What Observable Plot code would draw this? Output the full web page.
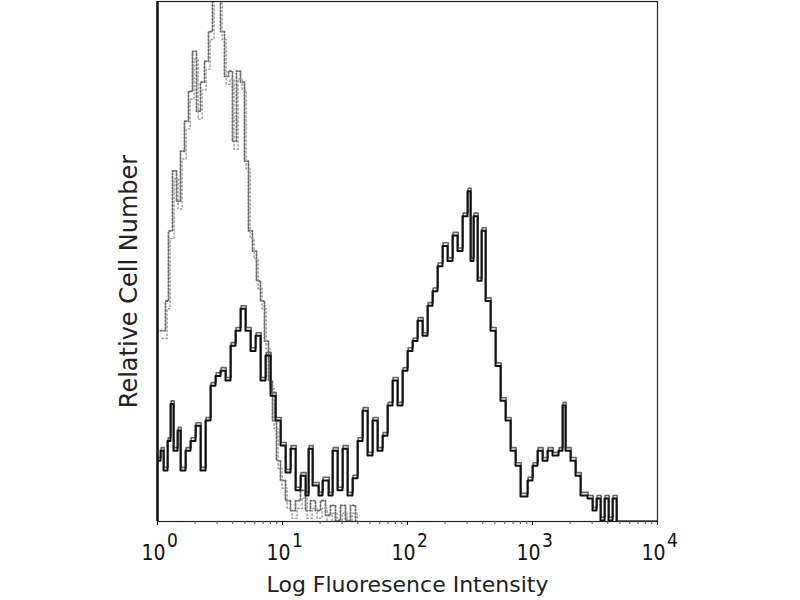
<!DOCTYPE html>
<html>
<head>
<meta charset="utf-8">
<script src="https://cdn.jsdelivr.net/npm/d3@7"></script>
<script src="https://cdn.jsdelivr.net/npm/@observablehq/plot@0.6"></script>
<style>
  html, body { margin: 0; padding: 0; background: #fff; }
  #chart { width: 800px; height: 600px; }
</style>
</head>
<body>
<div id="chart"></div>
<script>
// Stained sample (solid) — log10 intensity at bin start, relative count
const stainedExp = [0,0.024,0.048,0.08,0.104,0.128,0.16,0.184,0.224,0.264,0.304,0.344,0.384,0.424,0.464,0.504,0.544,0.584,0.624,0.664,0.704,0.744,0.784,0.824,0.864,0.904,0.944,0.984,1.024,1.064,1.104,1.144,1.184,1.208,1.24,1.288,1.32,1.368,1.4,1.44,1.48,1.52,1.56,1.6,1.64,1.68,1.72,1.76,1.8,1.84,1.88,1.92,1.96,2.0,2.04,2.08,2.12,2.16,2.2,2.24,2.28,2.32,2.36,2.4,2.44,2.48,2.504,2.528,2.56,2.592,2.624,2.664,2.704,2.744,2.784,2.824,2.864,2.904,2.96,3.0,3.04,3.08,3.12,3.16,3.208,3.24,3.264,3.304,3.344,3.384,3.44,3.48,3.512,3.544,3.576,3.608,3.64,3.672,4.0];
const stainedCount = [11.7,13.6,9.8,15.5,22.6,13.6,17.5,9.8,13.6,15.5,18.4,9.8,19.4,26.1,28.0,29.0,27.1,33.8,36.7,40.9,36.7,32.8,35.7,27.1,31.9,24.2,19.4,14.6,9.4,14.0,6.0,8.8,5.0,14.0,6.9,5.0,7.9,5.0,13.6,6.0,14.0,5.0,8.3,15.5,21.3,12.7,19.4,13.6,16.5,22.3,27.1,22.3,29.0,32.8,34.7,38.6,35.7,41.5,44.3,49.1,53.0,50.1,55.0,52.0,58.7,63.5,50.1,58.7,46.3,55.9,42.4,36.7,29.9,23.2,19.4,13.6,10.7,4.8,7.9,10.7,13.6,11.7,13.6,12.7,13.6,22.3,13.6,11.7,8.8,5.0,4.4,2.1,4.4,0.2,4.4,0.2,4.4,0,0];

// Isotype control (dotted)
const controlExp = [0.024,0.064,0.088,0.12,0.152,0.184,0.216,0.248,0.28,0.312,0.344,0.376,0.408,0.44,0.472,0.504,0.536,0.568,0.6,0.632,0.664,0.696,0.728,0.76,0.792,0.824,0.856,0.888,0.92,0.952,0.984,1.024,1.064,1.104,1.144,1.184,1.224,1.264,1.304,1.344,1.384,1.424,1.464,1.504,1.544,1.584];
const controlCount = [36.7,42.4,55.9,67.4,61.6,71.2,77.0,82.7,90.4,78.9,84.5,88.5,94.2,102,104,94.2,85.6,86.6,73.1,86.6,84.5,69.3,55.9,52.0,46.3,42.4,34.7,27.1,19.4,11.7,7.9,4.0,2.1,4.0,6.0,2.1,4.0,2.1,4.0,1.2,3.1,0.2,3.1,0.2,3.1,0];

const majorTicks = [1, 10, 100, 1000, 10000];
const tickBase = ["10", "10", "10", "10", "10"];
const tickExponent = ["0", "1", "2", "3", "4"];
const xTitle = "Log Fluoresence Intensity";
const yTitle = "Relative Cell Number";

const stained = stainedExp.map((e, i) => ({x: 10 ** e, y: stainedCount[i]}));
const control = controlExp.map((e, i) => ({x: 10 ** e, y: controlCount[i]}));
const minorTicks = [];
for (const p of [1, 10, 100, 1000]) for (let k = 2; k <= 9; k++) minorTicks.push(p * k);

const tickFont = "'DejaVu Sans Condensed', 'DejaVu Sans', sans-serif";

const chart = Plot.plot({
  width: 800,
  height: 600,
  marginLeft: 157,
  marginRight: 143,
  marginTop: 1,
  marginBottom: 79,
  style: {fontFamily: "'DejaVu Sans', sans-serif", background: "#fff", color: "#111"},
  x: {type: "log", domain: [1, 10000], axis: null},
  y: {domain: [0, 100], axis: null},
  marks: [
    Plot.lineY(control, {x: "x", y: "y", curve: "step-after", stroke: "#6a6a6a", strokeWidth: 1.8, strokeDasharray: "1.5,2", clip: true}),
    Plot.lineY(control, {x: d => d.x * 1.03, y: d => d.y > 0 ? d.y - 1.5 : 0, curve: "step-after", stroke: "#9a9a9a", strokeWidth: 1.4, strokeDasharray: "1.5,2.5", clip: true}),
    Plot.lineY(stained, {x: d => d.x * 1.012, y: d => d.y > 0 ? d.y + 0.6 : 0, curve: "step-after", stroke: "#666", strokeWidth: 1.6, clip: true}),
    Plot.lineY(stained, {x: "x", y: "y", curve: "step-after", stroke: "#111", strokeWidth: 2, clip: true}),
    Plot.frame({stroke: "#222", strokeWidth: 1.2}),
    Plot.ruleX([1], {stroke: "#111", strokeWidth: 2.5}),
    Plot.axisX(minorTicks, {anchor: "bottom", tickSize: 3, tickFormat: () => "", label: null, stroke: "#555"}),
    Plot.axisX(majorTicks, {anchor: "bottom", tickSize: 4, tickFormat: () => "", label: null}),
    Plot.text(majorTicks, {x: d => d, text: (d, i) => tickBase[i], frameAnchor: "bottom", lineAnchor: "middle", dx: -4, dy: 32, fontSize: 21, fontFamily: tickFont, fill: "#111"}),
    Plot.text(majorTicks, {x: d => d, text: (d, i) => tickExponent[i], frameAnchor: "bottom", lineAnchor: "middle", dx: 15, dy: 19, fontSize: 19, fontFamily: tickFont, fill: "#111"}),
    Plot.text([xTitle], {frameAnchor: "bottom", lineAnchor: "middle", dy: 63, fontSize: 22, fill: "#222"}),
    Plot.text([yTitle], {frameAnchor: "left", textAnchor: "middle", lineAnchor: "middle", rotate: -90, dx: -28, dy: 20, fontSize: 24, fill: "#222"})
  ]
});
document.getElementById("chart").appendChild(chart);
</script>
</body>
</html>
